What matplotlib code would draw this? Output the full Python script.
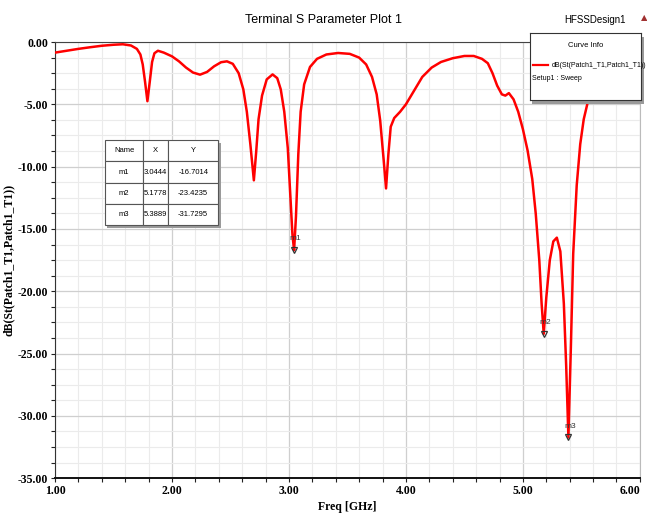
import matplotlib.pyplot as plt
from matplotlib.patches import Rectangle
from matplotlib.ticker import MultipleLocator, FormatStrFormatter

# S11 curve
freq_ghz = [
    1.00, 1.10, 1.20, 1.30, 1.40, 1.50, 1.58, 1.65, 1.70, 1.73, 1.75, 1.77,
    1.79, 1.81, 1.83, 1.85, 1.88, 1.93, 2.00, 2.06, 2.12, 2.18, 2.24, 2.30,
    2.36, 2.42, 2.47, 2.52, 2.57, 2.61, 2.64, 2.67, 2.70, 2.72, 2.74, 2.77,
    2.81, 2.86, 2.90, 2.93, 2.96, 2.99, 3.01, 3.03, 3.044, 3.06, 3.08, 3.10,
    3.13, 3.18, 3.24, 3.32, 3.42, 3.52, 3.60, 3.66, 3.71, 3.75, 3.78, 3.81,
    3.83, 3.85, 3.87, 3.90, 3.95, 4.00, 4.07, 4.14, 4.22, 4.30, 4.40, 4.50,
    4.58, 4.65, 4.70, 4.74, 4.78, 4.82, 4.85, 4.88, 4.92, 4.96, 5.00, 5.04,
    5.08, 5.11, 5.14, 5.16, 5.178, 5.20, 5.23, 5.26, 5.29, 5.32, 5.35, 5.37,
    5.389, 5.41, 5.43, 5.46, 5.49, 5.52, 5.56, 5.62, 5.70, 5.80, 5.90, 6.00,
]
s11_db = [
    -0.85, -0.70, -0.55, -0.42, -0.30, -0.22, -0.18, -0.28, -0.55, -1.00, -1.80, -3.20,
    -4.75, -3.20, -1.60, -0.90, -0.70, -0.85, -1.15, -1.55, -2.05, -2.45, -2.62, -2.40,
    -1.95, -1.62, -1.55, -1.75, -2.50, -3.80, -5.60, -8.20, -11.10, -8.80, -6.20, -4.30,
    -3.00, -2.60, -2.90, -3.80, -5.60, -8.50, -12.00, -15.50, -16.70, -14.00, -9.00, -5.60,
    -3.40, -2.00, -1.35, -1.00, -0.88, -0.95, -1.25, -1.80, -2.80, -4.20, -6.30, -9.50,
    -11.75, -9.00, -6.80, -6.10, -5.60, -5.00, -3.90, -2.80, -2.05, -1.60, -1.30, -1.12,
    -1.12, -1.35, -1.70, -2.50, -3.50, -4.20, -4.30, -4.10, -4.60, -5.60, -7.00, -8.70,
    -11.00, -13.80, -17.50, -21.00, -23.42, -20.50, -17.50, -16.00, -15.70, -16.80, -21.00, -26.00,
    -31.73, -24.50, -17.00, -11.50, -8.20, -6.20, -4.60, -3.30, -2.30, -1.60, -1.20, -0.95,
]

marker_names = ["m1", "m2", "m3"]
marker_x = [3.0444, 5.1778, 5.3889]
marker_y = [-16.7014, -23.4235, -31.7295]

serif = "Liberation Serif"
sans = "Liberation Sans"


def main():
    fig = plt.figure(figsize=(6.47, 5.22), dpi=100)
    ax = fig.add_axes([0.085, 0.084, 0.904, 0.8355])

    ax.plot(freq_ghz, s11_db, color="#ff0000", linewidth=1.8, zorder=3)

    for name, mx, my in zip(marker_names, marker_x, marker_y):
        ax.plot(mx, my, marker="v", markersize=4.5, markerfacecolor="none",
                markeredgecolor="#333333", markeredgewidth=0.9, zorder=4)
        ax.annotate(name, (mx, my), xytext=(1, 7), textcoords="offset points",
                    fontsize=6, family=sans, color="#333333", ha="center",
                    zorder=5)

    ax.set_xlim(1.0, 6.0)
    ax.set_ylim(-35.0, 0.0)
    ax.xaxis.set_major_locator(MultipleLocator(1.0))
    ax.xaxis.set_minor_locator(MultipleLocator(0.2))
    ax.yaxis.set_major_locator(MultipleLocator(5.0))
    ax.yaxis.set_minor_locator(MultipleLocator(1.25))
    ax.xaxis.set_major_formatter(FormatStrFormatter("%.2f"))
    ax.yaxis.set_major_formatter(FormatStrFormatter("%.2f"))

    ax.grid(which="major", color="#cfcfcf", linewidth=0.9)
    ax.grid(which="minor", color="#ebebeb", linewidth=0.8)
    ax.set_axisbelow(True)

    ax.tick_params(which="both", direction="out", length=3, width=0.8,
                   color="#222222")
    ax.tick_params(which="major", labelsize=8.5, pad=2)
    fig.canvas.draw()
    for lab in ax.get_xticklabels() + ax.get_yticklabels():
        lab.set_family(serif)
        lab.set_fontweight("bold")
    # last x label sits at the figure edge
    for lab in ax.get_xticklabels():
        if lab.get_text() == "6.00":
            lab.set_horizontalalignment("right")

    ax.spines["left"].set_color("#333333")
    ax.spines["top"].set_color("#444444")
    ax.spines["right"].set_color("#bbbbbb")
    ax.spines["bottom"].set_color("#111111")
    ax.spines["bottom"].set_linewidth(1.4)

    ax.set_xlabel("Freq [GHz]", family=serif, fontweight="bold", fontsize=8.5,
                  labelpad=3)
    ax.set_ylabel("dB(St(Patch1_T1,Patch1_T1))", family=serif,
                  fontweight="bold", fontsize=8.5, labelpad=2)

    fig.text(0.5, 0.962, "Terminal S Parameter Plot 1", family=sans,
             fontsize=9, ha="center", va="center")
    fig.text(0.92, 0.962, "HFSSDesign1", family=sans, fontsize=7,
             ha="center", va="center")
    fig.text(0.995, 0.966, "\u25b2", family="DejaVu Sans", fontsize=6,
             color="#a03030", ha="center", va="center")

    # marker table
    tx0, tx1 = 0.085, 0.279
    ty0, ty1 = 0.58, 0.775
    ax.add_patch(Rectangle((tx0 + 0.004, ty0 - 0.006), tx1 - tx0, ty1 - ty0,
                           transform=ax.transAxes, facecolor="#9a9a9a",
                           edgecolor="none", zorder=5))
    rows = [["Name", "X", "Y"]]
    for name, mx, my in zip(marker_names, marker_x, marker_y):
        rows.append([name, f"{mx:.4f}", f"{my:.4f}"])
    tbl = ax.table(cellText=rows, cellLoc="center",
                   colWidths=[0.34, 0.22, 0.44],
                   bbox=[tx0, ty0, tx1 - tx0, ty1 - ty0], zorder=6)
    tbl.auto_set_font_size(False)
    for (r, c), cell in tbl.get_celld().items():
        cell.set_facecolor("white")
        cell.set_edgecolor("#555555")
        cell.set_linewidth(0.8)
        cell.get_text().set_fontsize(5.5)
        cell.get_text().set_family(sans)

    # curve info box
    sh = fig.add_axes([0.823, 0.800, 0.172, 0.129])
    sh.set_facecolor("#9a9a9a")
    sh.set_xticks([])
    sh.set_yticks([])
    for s in sh.spines.values():
        s.set_visible(False)
    leg = fig.add_axes([0.819, 0.808, 0.172, 0.129])
    leg.set_xlim(0, 1)
    leg.set_ylim(0, 1)
    leg.set_xticks([])
    leg.set_yticks([])
    for s in leg.spines.values():
        s.set_color("#333333")
        s.set_linewidth(0.8)
    leg.text(0.5, 0.82, "Curve Info", family=sans, fontsize=5.5,
             ha="center", va="center")
    leg.plot([0.03, 0.16], [0.52, 0.52], color="#ff0000", linewidth=1.6)
    leg.text(0.2, 0.52, "dB(St(Patch1_T1,Patch1_T1))", family=sans,
             fontsize=5, ha="left", va="center")
    leg.text(0.02, 0.33, "Setup1 : Sweep", family=sans, fontsize=5,
             ha="left", va="center")

    fig.savefig("out.png", dpi=100)
    plt.close(fig)


if __name__ == "__main__":
    main()
